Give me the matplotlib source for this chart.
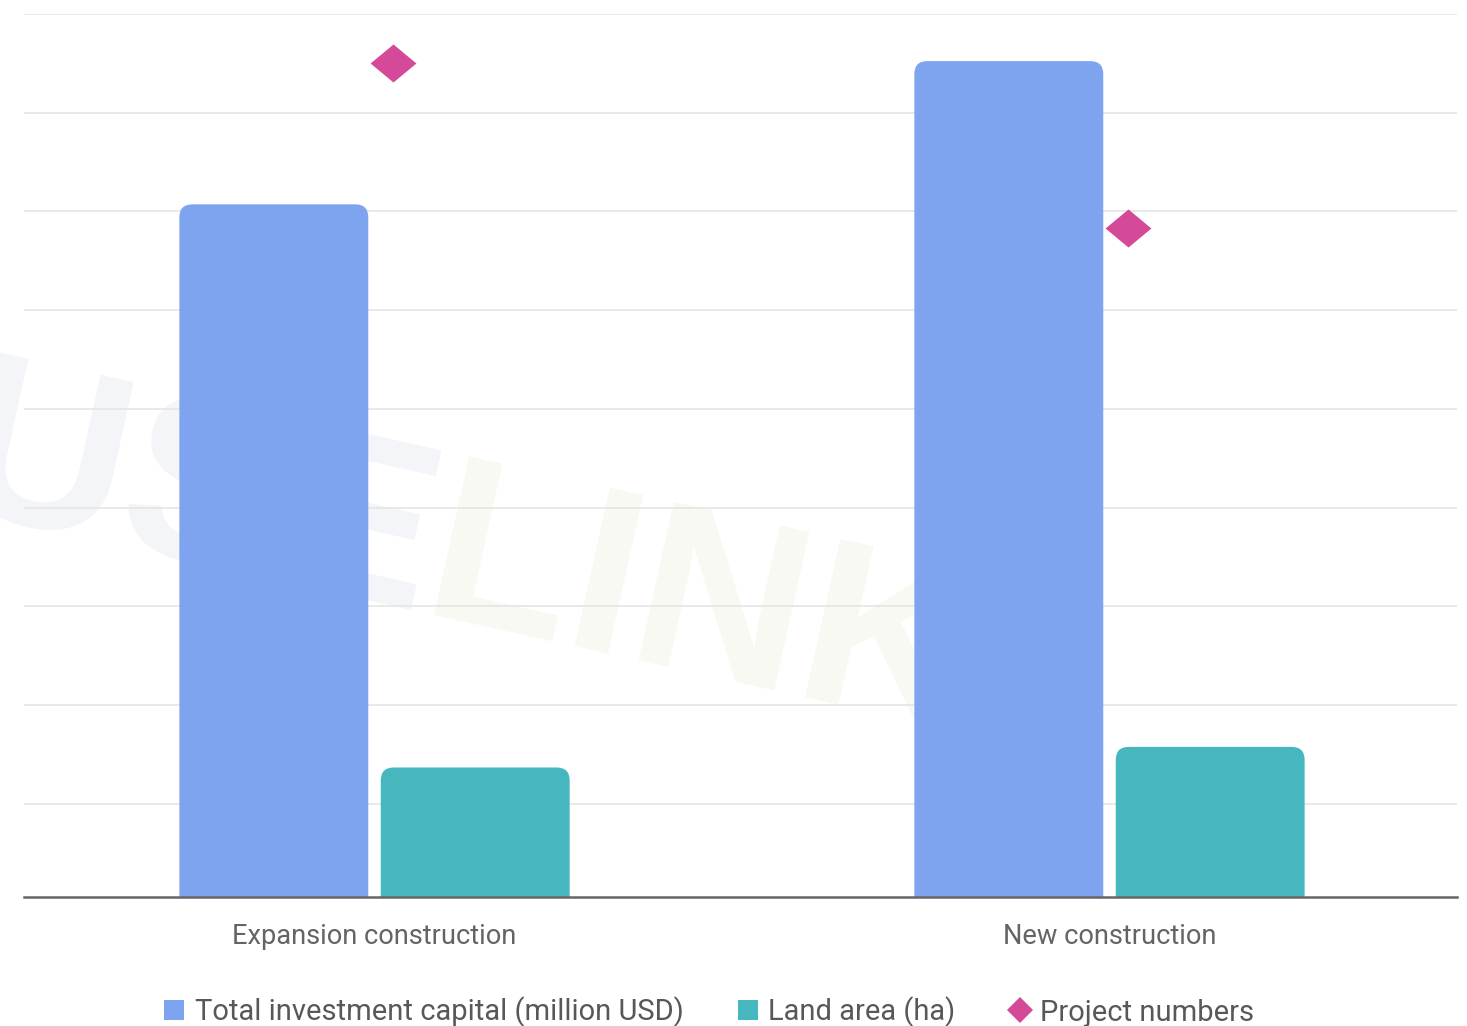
import matplotlib
matplotlib.use("Agg")
import numpy as np
import matplotlib.pyplot as plt
from matplotlib.path import Path
from matplotlib.patches import PathPatch
from matplotlib.lines import Line2D
from matplotlib.textpath import TextPath
from matplotlib.font_manager import FontProperties
from matplotlib.transforms import Affine2D, IdentityTransform

# Data
categories = ["Expansion construction", "New construction"]
investment_capital = [70.6, 85.2]   # million USD
land_area = [13.2, 15.3]            # ha
project_numbers = [85.0, 68.3]
series_labels = ["Total investment capital (million USD)", "Land area (ha)", "Project numbers"]

BLUE = "#7ea4ef"
TEAL = "#47b7bf"
PINK = "#d44a99"
TEXT = "#585858"
GRID = "#e3e3e3"

W, H = 1467, 1026
fig = plt.figure(figsize=(W / 100, H / 100), dpi=100, facecolor="white")

left, right, bottom, top = 24, 1457, 897, 14
ax2 = fig.add_axes([left / W, 1 - bottom / H, (right - left) / W, (bottom - top) / H])
ax = ax2.twinx()
ax.set_zorder(1)
ax2.set_zorder(0)
ax.patch.set_visible(False)
ax2.patch.set_visible(False)

x = list(range(len(categories)))
xlim = (-0.4769, 1.4728)
ax.set_xlim(*xlim)
ax2.set_xlim(*xlim)
ax.set_ylim(0, 90)
ax2.set_ylim(0.58, 90)

bw = 0.257
off = 0.137
bars_inv = ax.bar([i - off for i in x], investment_capital, width=bw, color=BLUE)
bars_land = ax.bar([i + off for i in x], land_area, width=bw, color=TEAL)

# Rounded top corners (radius in pixels)
r_px = 13
ax_w_px = right - left
ax_h_px = bottom - top
rx = r_px * (xlim[1] - xlim[0]) / ax_w_px
ry = r_px * 90 / ax_h_px


def rounded_top(x0, w, h):
    verts = [(x0, 0), (x0, h - ry), (x0, h), (x0 + rx, h), (x0 + w - rx, h),
             (x0 + w, h), (x0 + w, h - ry), (x0 + w, 0), (x0, 0)]
    codes = [Path.MOVETO, Path.LINETO, Path.CURVE3, Path.CURVE3, Path.LINETO,
             Path.CURVE3, Path.CURVE3, Path.LINETO, Path.CLOSEPOLY]
    return Path(verts, codes)


for bars in (bars_inv, bars_land):
    for rect in bars:
        p = rounded_top(rect.get_x(), rect.get_width(), rect.get_height())
        ax.add_patch(PathPatch(p, facecolor=rect.get_facecolor(), edgecolor="none"))
        rect.set_visible(False)

# Diamonds on the secondary scale
diamond = Path([(-1, 0), (0, 0.83), (1, 0), (0, -0.83), (-1, 0)],
               [Path.MOVETO, Path.LINETO, Path.LINETO, Path.LINETO, Path.CLOSEPOLY])
ax2.plot([i + 0.025 for i in x], project_numbers, linestyle="none", marker=diamond,
         markersize=33, color=PINK, markeredgewidth=0)

# Grid and axes styling
ax2.set_yticks([10, 20, 30, 40, 50, 60, 70, 80, 90])
ax2.yaxis.grid(True, color=GRID, linewidth=1.1)
ax2.set_axisbelow(True)
for a in (ax, ax2):
    a.tick_params(axis="y", left=False, right=False, labelleft=False, labelright=False)
    for s in ("top", "left", "right"):
        a.spines[s].set_visible(False)
ax2.spines["bottom"].set_visible(False)
ax.spines["bottom"].set_color("#666666")
ax.spines["bottom"].set_linewidth(1.8)
ax2.set_xticks(x)
ax2.set_xticklabels(categories, fontsize=19.6, color="#646464", fontfamily="Roboto",
                    fontweight="normal")
ax2.tick_params(axis="x", length=0, pad=19)

# Watermark
fp = FontProperties(family="Liberation Sans", weight="bold")
em = 236
ang = np.deg2rad(12.5)
bx = (np.cos(ang), -np.sin(ang))
by = (np.sin(ang), np.cos(ang))
mat = np.array([[em * bx[0], em * by[0], 0.0],
                [em * bx[1], em * by[1], 0.0],
                [0.0, 0.0, 1.0]])
off_l = TextPath((0, 0), "USE", size=1, prop=fp).get_extents().x1 + 0.10
lsb_l = TextPath((0, 0), "L", size=1, prop=fp).get_extents().x0
ox = 434 - off_l * em * bx[0]
oy = (H - 615) - off_l * em * bx[1]
for word, start, col in (("USE", 0.0, "#f4f5f8"), ("LINK", off_l - lsb_l, "#f8f9f3")):
    tp = TextPath((start, 0), word, size=1, prop=fp)
    tr = Affine2D(mat).translate(ox, oy) + IdentityTransform()
    fig.patches.append(PathPatch(tp, facecolor=col, edgecolor="none", transform=tr,
                                 zorder=-1, figure=fig))

# Legend
handles = [
    Line2D([], [], linestyle="none", marker="s", markersize=14, color=BLUE, markeredgewidth=0),
    Line2D([], [], linestyle="none", marker="s", markersize=14, color=TEAL, markeredgewidth=0),
    Line2D([], [], linestyle="none", marker="D", markersize=13, color=PINK, markeredgewidth=0),
]
leg = fig.legend(handles, series_labels, loc="center", bbox_to_anchor=(709 / W, 1 - 1012 / H),
                 ncol=3, frameon=False, handlelength=0.7, handletextpad=0.35, columnspacing=1.85,
                 prop=FontProperties(family="Roboto", size=21))
for t in leg.get_texts():
    t.set_color(TEXT)

fig.savefig("out.png", dpi=100, facecolor="white")
